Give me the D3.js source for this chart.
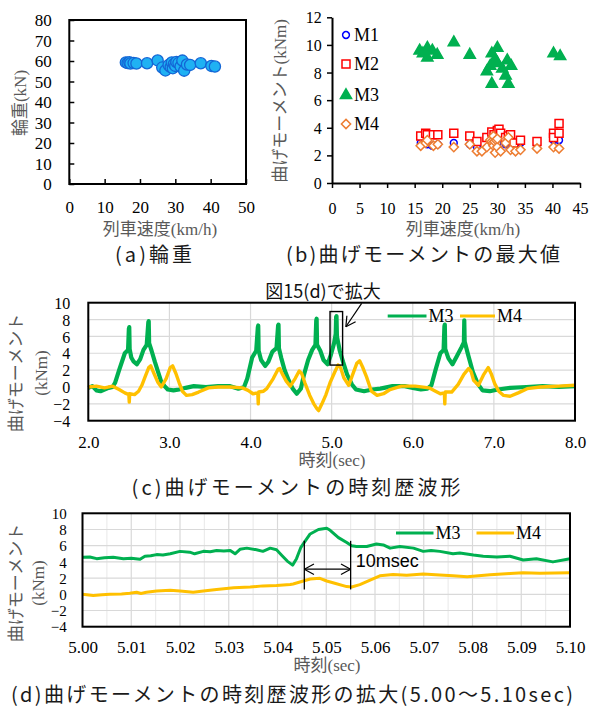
<!DOCTYPE html>
<html>
<head>
<meta charset="utf-8">
<title>輪重と曲げモーメント</title>
<script src="https://d3js.org/d3.v7.min.js"></script>
<style>
	body { margin: 0; background: #fff; }
	text { font-family: "Liberation Serif", "Noto Sans CJK JP", serif; }
	.cap { font-family: "Noto Sans CJK JP", sans-serif; fill: #1a1a1a; font-size: 20px; }
	.ttl { fill: #595959; font-size: 17px; }
	.tick text { fill: #000; }
	.grid { stroke: #d9d9d9; stroke-width: 1.2px; }
	.gridMinor { stroke: #ececec; stroke-width: 1.2px; }
	.wave { fill: none; stroke-linejoin: round; }
</style>
</head>
<body>
<script>
	// (a) wheel load vs train speed  [km/h, kN]
	var loadPoints = [
		[16.0, 59.3], [16.5, 59.0], [17.0, 59.4], [17.3, 58.8], [18.2, 59.0], [19.0, 58.8],
		[22.0, 58.9], [25.0, 60.3], [26.3, 56.8], [27.2, 55.4], [28.1, 58.0], [28.7, 57.0],
		[29.0, 59.3], [29.3, 56.5], [29.6, 58.5], [30.0, 57.6], [30.3, 59.5], [30.9, 59.0],
		[31.5, 57.3], [32.0, 60.2], [32.5, 55.3], [33.3, 58.3], [34.2, 58.1], [37.2, 58.9],
		[40.2, 57.6], [41.2, 57.3]
	];

	// (b) maximum bending moment vs train speed  [km/h, kNm]
	var m1Points = [
		[16.1, 2.9], [17.3, 2.8], [18.2, 2.7], [19.2, 2.8], [22.1, 2.9], [25.0, 2.8], [26.3, 2.6],
		[29.0, 2.9], [30.0, 2.9], [31.5, 2.8], [33.0, 2.9], [34.2, 2.9], [37.2, 2.8], [40.2, 3.1], [41.2, 3.1]
	];
	var m2Points = [
		[16.1, 3.4], [17.0, 3.6], [17.3, 3.5], [18.4, 3.5], [19.2, 3.5], [22.1, 3.6], [25.0, 3.4],
		[26.3, 3.0], [28.1, 3.3], [29.0, 3.7], [29.4, 3.5], [30.0, 3.8], [30.3, 3.9], [30.6, 3.6],
		[31.5, 3.3], [32.0, 3.4], [32.4, 3.5], [33.0, 2.9], [34.2, 3.1], [37.2, 3.0], [40.2, 3.6],
		[40.2, 3.3], [41.2, 4.3], [41.2, 3.6]
	];
	var m3Points = [
		[15.9, 9.6], [16.5, 9.4], [17.3, 9.8], [17.3, 9.1], [18.2, 9.6], [19.1, 9.3], [22.1, 10.2],
		[25.0, 9.3], [28.1, 8.1], [28.7, 8.5], [29.0, 7.2], [29.0, 9.4], [29.6, 9.0], [30.0, 9.8],
		[30.0, 8.7], [30.9, 8.3], [31.5, 7.8], [31.8, 8.9], [32.0, 7.2], [32.5, 8.5], [40.2, 9.4], [41.4, 9.2]
	];
	var m4Points = [
		[16.1, 2.7], [17.0, 2.9], [17.3, 3.1], [18.4, 2.7], [19.2, 2.8], [22.1, 2.6], [25.0, 2.8],
		[26.3, 2.3], [27.2, 2.3], [28.1, 2.6], [28.7, 3.1], [29.0, 3.0], [29.2, 2.9], [29.3, 3.4],
		[29.3, 2.7], [29.5, 3.0], [29.6, 2.2], [29.8, 3.1], [30.0, 2.6], [30.0, 3.2], [30.6, 2.3],
		[31.5, 2.9], [32.0, 3.3], [32.4, 2.4], [33.3, 2.3], [34.2, 2.4], [37.2, 2.5], [40.2, 2.6], [41.2, 2.5]
	];
	var seriesNames = ["M1", "M2", "M3", "M4"];

	// (c) time history  [sec, kNm]
	var waveM3 = [
		[2.00, -0.1], [2.05, 0.1], [2.10, -0.4], [2.15, -0.5], [2.20, -0.3], [2.25, -0.1], [2.30, 0.0],
		[2.33, 0.5], [2.38, 2.0], [2.45, 4.0], [2.49, 4.4], [2.50, 6.9], [2.505, 7.1], [2.51, 4.5],
		[2.53, 3.5], [2.56, 3.0], [2.60, 2.7], [2.64, 3.3], [2.68, 4.4], [2.72, 5.0], [2.74, 7.7],
		[2.745, 7.8], [2.75, 5.2], [2.78, 4.3], [2.82, 3.0], [2.86, 1.8], [2.90, 0.6], [2.94, 0.1],
		[2.98, -0.3], [3.05, -0.4], [3.12, -0.3], [3.20, -0.1], [3.30, 0.1], [3.45, 0.0], [3.60, 0.1],
		[3.75, 0.1], [3.85, -0.2], [3.92, 0.0], [3.96, 1.0], [4.02, 3.5], [4.07, 4.3], [4.09, 7.1],
		[4.095, 7.3], [4.10, 4.3], [4.13, 3.2], [4.18, 2.5], [4.22, 3.0], [4.27, 4.2], [4.32, 4.6],
		[4.34, 7.3], [4.345, 7.4], [4.35, 4.6], [4.38, 3.4], [4.42, 2.0], [4.47, 0.8], [4.52, -0.2],
		[4.57, -0.8], [4.62, -0.2], [4.66, 1.5], [4.71, 3.2], [4.76, 4.4], [4.80, 5.0], [4.81, 7.9],
		[4.815, 8.1], [4.82, 5.0], [4.86, 4.3], [4.90, 3.2], [4.95, 2.7], [4.99, 3.8], [5.03, 5.2],
		[5.05, 6.3], [5.055, 8.3], [5.06, 8.4], [5.065, 6.0], [5.10, 4.3], [5.14, 3.0], [5.19, 1.5],
		[5.25, 0.3], [5.30, -0.3], [5.40, -0.5], [5.50, -0.3], [5.60, -0.2], [5.75, 0.1], [5.90, 0.1],
		[6.00, -0.1], [6.10, -0.3], [6.18, -0.2], [6.23, 0.2], [6.28, 2.0], [6.34, 4.0], [6.38, 4.4],
		[6.39, 7.2], [6.395, 7.4], [6.40, 4.5], [6.44, 3.4], [6.49, 2.7], [6.54, 3.6], [6.60, 4.7],
		[6.63, 5.3], [6.635, 7.9], [6.64, 5.4], [6.68, 3.9], [6.74, 1.8], [6.80, 0.4], [6.86, -0.4],
		[6.95, -0.5], [7.05, -0.3], [7.20, -0.1], [7.40, 0.0], [7.60, 0.1], [7.80, 0.0], [8.00, 0.1]
	];
	var waveM4 = [
		[2.00, 0.0], [2.10, 0.1], [2.20, -0.1], [2.30, 0.1], [2.38, -0.3], [2.45, -0.7], [2.50, -0.9],
		[2.505, -1.8], [2.51, -0.8], [2.57, -0.9], [2.62, -0.5], [2.66, 0.2], [2.70, 1.2], [2.745, 2.3],
		[2.77, 2.5], [2.81, 1.6], [2.855, 0.6], [2.90, 0.0], [2.96, 1.0], [3.01, 2.3], [3.04, 2.5],
		[3.08, 1.6], [3.12, 0.5], [3.16, -0.5], [3.21, -1.0], [3.28, -0.9], [3.36, -0.6], [3.48, -0.1],
		[3.60, 0.0], [3.75, 0.0], [3.90, -0.1], [3.97, -0.4], [4.03, -0.8], [4.09, -0.7], [4.095, -2.0],
		[4.10, -0.6], [4.16, -0.5], [4.20, -0.2], [4.28, 1.0], [4.34, 2.1], [4.36, 2.2], [4.40, 1.4],
		[4.44, 0.7], [4.49, 0.1], [4.55, 1.0], [4.60, 1.9], [4.63, 1.6], [4.67, 0.5], [4.73, -1.0],
		[4.78, -2.0], [4.82, -2.6], [4.84, -2.8], [4.88, -2.0], [4.93, -0.9], [4.98, 0.5], [5.04, 1.8],
		[5.08, 2.6], [5.11, 2.3], [5.15, 1.1], [5.21, 0.2], [5.26, 1.5], [5.31, 2.8], [5.345, 3.1],
		[5.38, 2.4], [5.43, 1.2], [5.49, -0.5], [5.56, -1.0], [5.64, -0.8], [5.72, -0.3], [5.86, 0.1],
		[6.03, 0.1], [6.20, -0.1], [6.28, -0.5], [6.34, -0.8], [6.39, -0.7], [6.395, -2.0], [6.40, -0.6],
		[6.48, -0.6], [6.56, 0.3], [6.63, 1.5], [6.69, 2.2], [6.72, 1.8], [6.75, 0.8], [6.81, 0.2],
		[6.87, 1.4], [6.93, 2.3], [6.97, 1.5], [7.01, 0.4], [7.06, -0.5], [7.12, -1.0], [7.20, -1.1],
		[7.30, -0.7], [7.41, -0.2], [7.57, 0.0], [7.80, 0.1], [8.00, 0.2]
	];
	var zoomBox = { t0: 4.98, t1: 5.135, v0: 2.6, v1: 8.95 };
	var calloutArrow = [[5.37, 9.93], [5.175, 7.15]];

	// (d) zoomed time history  [sec, kNm]
	var zoomM3 = [
		[5.0000, 4.57], [5.0015, 4.6], [5.0029, 4.4], [5.0045, 4.5], [5.0063, 4.57], [5.0084, 4.4],
		[5.0100, 4.45], [5.0118, 4.32], [5.0128, 4.7], [5.0140, 4.75], [5.0152, 4.9], [5.0165, 4.85],
		[5.0180, 5.0], [5.0200, 5.3], [5.0220, 5.2], [5.0230, 5.0], [5.0248, 5.3], [5.0262, 5.25],
		[5.0275, 5.4], [5.0290, 5.35], [5.0303, 5.42], [5.0313, 5.0], [5.0323, 5.55], [5.0337, 5.7],
		[5.0357, 5.5], [5.0370, 5.3], [5.0385, 5.7], [5.0398, 5.5], [5.0409, 4.8], [5.0420, 4.1],
		[5.0431, 3.6], [5.0439, 4.4], [5.0448, 5.8], [5.0456, 6.5], [5.0467, 7.45], [5.0484, 8.0],
		[5.0501, 8.15], [5.0508, 7.9], [5.0525, 7.0], [5.0542, 6.4], [5.0552, 6.0], [5.0562, 5.9],
		[5.0583, 5.9], [5.0603, 6.2], [5.0617, 6.1], [5.0631, 5.7], [5.0651, 5.9], [5.0679, 5.7],
		[5.0699, 5.3], [5.0715, 5.4], [5.0733, 5.3], [5.0760, 5.0], [5.0774, 5.1], [5.0802, 4.85],
		[5.0822, 4.7], [5.0850, 4.6], [5.0877, 4.7], [5.0904, 4.23], [5.0931, 4.4], [5.0965, 4.0],
		[5.1000, 4.4]
	];
	var zoomM4 = [
		[5.0000, 0.0], [5.0022, -0.15], [5.0040, -0.05], [5.0056, 0.0], [5.0080, 0.05], [5.0097, 0.12],
		[5.0111, 0.25], [5.0120, 0.1], [5.0131, 0.25], [5.0152, 0.4], [5.0180, 0.5], [5.0200, 0.4],
		[5.0227, 0.25], [5.0248, 0.4], [5.0275, 0.6], [5.0310, 0.8], [5.0344, 0.9], [5.0370, 1.04],
		[5.0398, 1.1], [5.0426, 1.2], [5.0432, 1.27], [5.0453, 1.64], [5.0467, 1.89], [5.0487, 1.97],
		[5.0501, 1.64], [5.0521, 1.3], [5.0542, 0.95], [5.0552, 0.9], [5.0569, 1.2], [5.0590, 1.75],
		[5.0610, 2.28], [5.0637, 2.44], [5.0665, 2.36], [5.0699, 2.5], [5.0733, 2.38], [5.0760, 2.28],
		[5.0789, 2.17], [5.0836, 2.4], [5.0877, 2.56], [5.0904, 2.67], [5.0938, 2.6], [5.1000, 2.67]
	];
	var spanTimes = [5.0455, 5.0550];

	var green = "#00b050", yellow = "#ffc000";

	var svg = d3.select("body").append("svg")
			.attr("width", 590)
			.attr("height", 708);

	function styleTicks(g, size) {
		g.select(".domain").remove();
		g.selectAll(".tick line").attr("stroke", "#000").attr("stroke-width", 1.5);
		g.selectAll(".tick text").attr("font-size", size);
	}

	function caption(txt, x0, x1, y) {
		svg.append("text").attr("class", "cap")
				.attr("x", x0).attr("y", y)
				.attr("textLength", x1 - x0)
				.attr("lengthAdjust", "spacing")
				.text(txt);
	}

	function vTitle(txt, x, y) {
		svg.append("text").attr("class", "ttl")
				.attr("transform", "translate(" + x + "," + y + ") rotate(-90)")
				.attr("text-anchor", "middle")
				.attr("dy", "0.35em")
				.text(txt);
	}

	function hTitle(txt, x, y) {
		svg.append("text").attr("class", "ttl")
				.attr("x", x).attr("y", y)
				.attr("text-anchor", "middle")
				.attr("dy", "0.35em")
				.text(txt);
	}

	function openHead(g, x, y, ang) {
		// two short strokes back from the tip
		[-0.5, 0.5].forEach(function(da) {
			g.append("line")
					.attr("x1", x).attr("y1", y)
					.attr("x2", x - 11 * Math.cos(ang + da))
					.attr("y2", y - 11 * Math.sin(ang + da))
					.attr("stroke", "#000").attr("stroke-width", 1.2);
		});
	}

	////////////////////////////////////////////////////////////
	// (a)
	var xa = d3.scaleLinear().domain([0, 50]).range([69.3, 246]);
	var ya = d3.scaleLinear().domain([0, 80]).range([184, 20]);
	var ga = svg.append("g");

	ga.selectAll("circle").data(loadPoints).enter().append("circle")
			.attr("cx", function(d) { return xa(d[0]); })
			.attr("cy", function(d) { return ya(d[1]); })
			.attr("r", 5.6)
			.attr("fill", "#1fb1f3")
			.attr("stroke", "#1466d6")
			.attr("stroke-width", 1.3);

	ga.append("rect")
			.attr("x", xa(0)).attr("y", ya(80))
			.attr("width", xa(50) - xa(0)).attr("height", ya(0) - ya(80))
			.attr("fill", "none").attr("stroke", "#000").attr("stroke-width", 2);

	ga.append("g").attr("transform", "translate(0," + ya(0) + ")")
			.call(d3.axisBottom(xa).tickValues(d3.range(0, 51, 10)).tickSize(-5).tickSizeOuter(0))
			.call(styleTicks, 17)
			.selectAll(".tick text").attr("y", 23).attr("dy", "0.35em");
	ga.append("g").attr("transform", "translate(" + xa(0) + ",0)")
			.call(d3.axisLeft(ya).tickValues(d3.range(0, 81, 10)).tickSize(-5).tickSizeOuter(0))
			.call(styleTicks, 17)
			.selectAll(".tick text").attr("x", -17.6).attr("dy", "0.35em");

	hTitle("列車速度(km/h)", 160, 229);
	vTitle("輪重(kN)", 20, 103);
	caption("(a)輪重", 115, 192, 262);

	////////////////////////////////////////////////////////////
	// (b)
	var xb = d3.scaleLinear().domain([0, 45]).range([332, 580]);
	var yb = d3.scaleLinear().domain([0, 12]).range([183, 17.3]);
	var gb = svg.append("g");

	var gbx = gb.append("g").attr("transform", "translate(0," + yb(0) + ")")
			.call(d3.axisBottom(xb).tickValues(d3.range(0, 46, 5)).tickSize(5).tickSizeOuter(0));
	gbx.select(".domain").attr("stroke", "#000").attr("stroke-width", 2);
	gbx.selectAll(".tick line").attr("stroke", "#000").attr("stroke-width", 1.5);
	gbx.selectAll(".tick text").attr("font-size", 16).attr("y", 25).attr("dy", "0.35em");

	var gby = gb.append("g").attr("transform", "translate(" + xb(0) + ",0)")
			.call(d3.axisLeft(yb).tickValues(d3.range(0, 13, 2)).tickSize(5).tickSizeOuter(0));
	gby.select(".domain").attr("stroke", "#000").attr("stroke-width", 2);
	gby.selectAll(".tick line").attr("stroke", "#000").attr("stroke-width", 1.5);
	gby.selectAll(".tick text").attr("font-size", 16).attr("x", -10.3).attr("dy", "0.35em");

	function markerPath(kind) {
		if (kind === "M2") return "M-4,-4H4V4H-4Z";
		if (kind === "M3") return "M0,-6.2L5.6,3.6H-5.6Z";
		if (kind === "M4") return "M0,-4.6L4.6,0L0,4.6L-4.6,0Z";
		return "M3.4,0A3.4,3.4 0 1,1 -3.4,0A3.4,3.4 0 1,1 3.4,0Z";
	}
	var markStyle = {
		M1: { fill: "none", stroke: "#0000ff" },
		M2: { fill: "#fff", stroke: "#ff0000" },
		M3: { fill: green, stroke: green },
		M4: { fill: "#fff", stroke: "#ed7d31" }
	};
	var bSeries = { M1: m1Points, M2: m2Points, M3: m3Points, M4: m4Points };

	seriesNames.forEach(function(name) {
		gb.append("g").selectAll("path").data(bSeries[name]).enter().append("path")
				.attr("transform", function(d) { return "translate(" + xb(d[0]) + "," + yb(d[1]) + ")"; })
				.attr("d", markerPath(name))
				.attr("fill", markStyle[name].fill)
				.attr("stroke", markStyle[name].stroke)
				.attr("stroke-width", 1.5);
	});

	var legB = gb.append("g").selectAll("g").data(seriesNames).enter().append("g")
			.attr("transform", function(d, i) { return "translate(346," + [35, 64, 95, 124][i] + ")"; });
	legB.append("path")
			.attr("d", function(d) { return markerPath(d); })
			.attr("fill", function(d) { return markStyle[d].fill; })
			.attr("stroke", function(d) { return markStyle[d].stroke; })
			.attr("stroke-width", 1.5);
	legB.append("text")
			.attr("x", 8).attr("dy", "0.35em")
			.attr("font-size", 18)
			.text(function(d) { return d; });

	hTitle("列車速度(km/h)", 463, 229);
	vTitle("曲げモーメント(kNm)", 280, 101);
	caption("(b)曲げモーメントの最大値", 286, 560, 262);

	////////////////////////////////////////////////////////////
	// (c) and (d) share the framed-line layout
	function wavePanel(opt) {
		var g = svg.append("g");
		var x = opt.x, y = opt.y;
		var x0 = x.range()[0], x1 = x.range()[1], yTop = y.range()[1], yBot = y.range()[0];

		g.selectAll(".gm").data(opt.minorGrid || []).enter().append("line")
				.attr("class", "gridMinor")
				.attr("x1", function(d) { return x(d); }).attr("x2", function(d) { return x(d); })
				.attr("y1", yTop).attr("y2", yBot);
		g.selectAll(".gv").data(opt.xTicks).enter().append("line")
				.attr("class", "grid")
				.attr("x1", function(d) { return x(d); }).attr("x2", function(d) { return x(d); })
				.attr("y1", yTop).attr("y2", yBot);
		g.selectAll(".gh").data(opt.yTicks).enter().append("line")
				.attr("class", "grid")
				.attr("y1", function(d) { return y(d); }).attr("y2", function(d) { return y(d); })
				.attr("x1", x0).attr("x2", x1);

		var line = d3.line()
				.x(function(d) { return x(d[0]); })
				.y(function(d) { return y(d[1]); });
		g.append("path").attr("class", "wave")
				.attr("d", line(opt.m3)).attr("stroke", green).attr("stroke-width", opt.w3);
		g.append("path").attr("class", "wave")
				.attr("d", line(opt.m4)).attr("stroke", yellow).attr("stroke-width", opt.w4);

		g.append("rect")
				.attr("x", x0).attr("y", yTop)
				.attr("width", x1 - x0).attr("height", yBot - yTop)
				.attr("fill", "none").attr("stroke", "#000").attr("stroke-width", 2);

		g.append("g").attr("transform", "translate(0," + yBot + ")")
				.call(d3.axisBottom(x).tickValues(opt.xTicks).tickFormat(opt.xFormat).tickSize(0))
				.call(styleTicks, 17)
				.selectAll(".tick text").attr("y", opt.xLabelGap).attr("dy", "0.35em");
		g.append("g").attr("transform", "translate(" + x0 + ",0)")
				.call(d3.axisLeft(y).tickValues(opt.yTicks).tickSize(0))
				.call(styleTicks, opt.yFont)
				.selectAll(".tick text").attr("x", -opt.yLabelGap).attr("dy", "0.35em");

		// legend
		var leg = g.append("g").attr("transform", "translate(0," + opt.legY + ")");
		[[opt.leg[0], green, "M3"], [opt.leg[1], yellow, "M4"]].forEach(function(e) {
			leg.append("line")
					.attr("x1", e[0][0]).attr("x2", e[0][1])
					.attr("stroke", e[1]).attr("stroke-width", 3.2);
			leg.append("text")
					.attr("x", e[0][1] + 2).attr("dy", "0.35em")
					.attr("font-size", 18)
					.text(e[2]);
		});
		return g;
	}

	var xc = d3.scaleLinear().domain([2, 8]).range([88.3, 575]);
	var yc = d3.scaleLinear().domain([-4, 10]).range([420.7, 302.7]);
	var gc = wavePanel({
		x: xc, y: yc,
		xTicks: d3.range(2, 8.01, 1), yTicks: d3.range(-4, 10.01, 2),
		xFormat: d3.format(".1f"),
		m3: waveM3, m4: waveM4, w3: 4.2, w4: 3.4,
		xLabelGap: 21, yLabelGap: 18, yFont: 16,
		legY: 316, leg: [[387.7, 426.5], [460, 495]]
	});

	gc.append("rect")
			.attr("x", xc(zoomBox.t0)).attr("y", yc(zoomBox.v1))
			.attr("width", xc(zoomBox.t1) - xc(zoomBox.t0))
			.attr("height", yc(zoomBox.v0) - yc(zoomBox.v1))
			.attr("fill", "none").attr("stroke", "#000").attr("stroke-width", 1.4);
	var a0 = [xc(calloutArrow[0][0]), yc(calloutArrow[0][1])],
			a1 = [xc(calloutArrow[1][0]), yc(calloutArrow[1][1])];
	gc.append("line")
			.attr("x1", a0[0]).attr("y1", a0[1]).attr("x2", a1[0]).attr("y2", a1[1])
			.attr("stroke", "#000").attr("stroke-width", 1.2);
	openHead(gc, a1[0], a1[1], Math.atan2(a1[1] - a0[1], a1[0] - a0[0]));

	svg.append("text")
			.attr("x", 323).attr("y", 292).attr("dy", "0.35em")
			.attr("text-anchor", "middle")
			.style("font-family", "'Noto Sans CJK JP', sans-serif")
			.attr("font-size", 18)
			.attr("fill", "#111")
			.text("図15(d)で拡大");

	hTitle("時刻(sec)", 332, 460);
	vTitle("曲げモーメント", 16, 373);
	vTitle("(kNm)", 41, 373);
	caption("(c)曲げモーメントの時刻歴波形", 131.6, 460.5, 495);

	////////////////////////////////////////////////////////////
	// (d)
	var xd = d3.scaleLinear().domain([5, 5.1]).range([82.5, 570]);
	var yd = d3.scaleLinear().domain([-4, 10]).range([626.7, 513.3]);
	var gd = wavePanel({
		x: xd, y: yd,
		xTicks: d3.range(0, 11).map(function(i) { return 5 + i * 0.01; }),
		minorGrid: d3.range(0, 10).map(function(i) { return 5.005 + i * 0.01; }),
		yTicks: d3.range(-4, 10.01, 2),
		xFormat: d3.format(".2f"),
		m3: zoomM3, m4: zoomM4, w3: 3, w4: 3,
		xLabelGap: 20.5, yLabelGap: 15.8, yFont: 15,
		legY: 533, leg: [[396, 433.5], [476.5, 514]]
	});

	spanTimes.forEach(function(t) {
		gd.append("line")
				.attr("x1", xd(t)).attr("x2", xd(t))
				.attr("y1", yd(6.6)).attr("y2", yd(0.6))
				.attr("stroke", "#000").attr("stroke-width", 1.3);
	});
	gd.append("line")
			.attr("x1", xd(spanTimes[0])).attr("x2", xd(spanTimes[1]))
			.attr("y1", yd(3.1)).attr("y2", yd(3.1))
			.attr("stroke", "#000").attr("stroke-width", 1.2);
	openHead(gd, xd(spanTimes[0]), yd(3.1), Math.PI);
	openHead(gd, xd(spanTimes[1]), yd(3.1), 0);
	gd.append("text")
			.attr("x", xd(spanTimes[1]) + 5).attr("y", yd(4.1)).attr("dy", "0.35em")
			.style("font-family", "'Liberation Sans', sans-serif")
			.attr("font-size", 18)
			.text("10msec");

	hTitle("時刻(sec)", 327, 665.5);
	vTitle("曲げモーメント", 16, 583);
	vTitle("(kNm)", 38, 583);
	caption("(d)曲げモーメントの時刻歴波形の拡大(5.00～5.10sec)", 11, 573, 702);
</script>
</body>
</html>
